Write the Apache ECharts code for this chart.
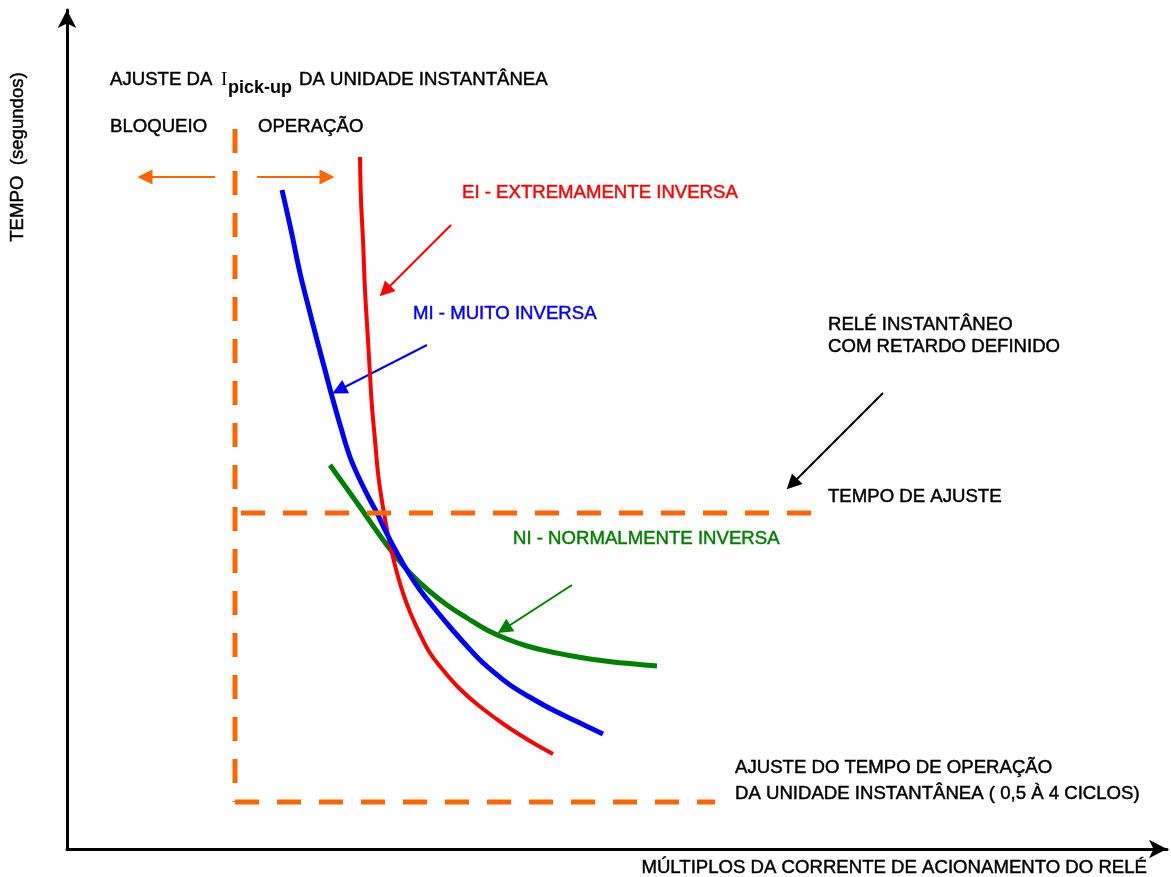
<!DOCTYPE html>
<html>
<head>
<meta charset="utf-8">
<script src="https://cdn.jsdelivr.net/npm/echarts@6/dist/echarts.min.js"></script>
<style>html,body{margin:0;padding:0;background:#fff}#c{width:1171px;height:877px}</style>
</head>
<body>
<div id="c"></div>
<script>
// Schematic relay time-current curves (arbitrary units, no scale in the original)
var eiCurve = [[293,692],[294,649],[296,609],[298,559],[301,509],[303,474],[305,442],[308,409],[311,376],[314,354],[317,336],[321,314],[325,296],[330,276],[336,256],[343,237],[352,217],[363,196],[376,179],[390,163],[405,149],[420,137],[435,126],[450,116],[468,105],[486,95]];
var miCurve = [[215,659],[224,619],[233,576],[241,544],[250,509],[258,479],[266,449],[274,421],[283,392],[293,369],[303,349],[310,336],[318,319],[330,296],[341,277],[353,259],[368,240],[383,222],[398,205],[413,189],[429,175],[446,162],[466,150],[486,139],[511,127],[536,115]];
var niCurve = [[263,384],[278,363],[293,342],[309,319],[326,296],[343,276],[361,259],[380,244],[400,231],[420,219],[440,210],[460,203],[480,198],[500,194],[523,190],[546,187],[568,185],[590,183]];
// Reference settings
var pickupX = [168];          // instantaneous pick-up setting (x)
var pickupYRange = [720, 47];
var settingTime = [336];      // definite-time setting (y)
var settingXRange = [174, 748];
var instTime = [47];          // instantaneous unit operating time (y)
var instXRange = [168, 648];
// Annotation arrows [from, to]
var arrowsOrange = [[[148,672],[78,672]],[[190,672],[260,672]]];
var arrowRed = [[384,624],[318,558]];
var arrowBlue = [[360,504],[272,459]];
var arrowGreen = [[505,264],[437,220]];
var arrowBlack = [[816,456],[725,365]];

var FONT = 'Arial, "Liberation Sans", sans-serif';
var FS = '18.6px ';
var chart = echarts.init(document.getElementById('c'));

function arrowSeries(list, color, z) {
  return {
    type: 'lines', coordinateSystem: 'cartesian2d', z: z || 3,
    symbol: ['none', 'triangle'], symbolSize: 15,
    lineStyle: { color: color, width: 2, opacity: 1 },
    itemStyle: { color: color },
    data: list.map(function (a) { return { coords: a }; }),
    silent: true
  };
}
function txt(x, y, s, color) {
  var c = color || '#000';
  return { type: 'text', x: x, y: y, style: { text: s, fill: c, font: FS + FONT, align: 'left', verticalAlign: 'middle', stroke: c, lineWidth: 0.45 } };
}

var orangeStyle = { color: '#ff6600', width: 5, type: [24, 18] };

chart.setOption({
  animation: false,
  backgroundColor: '#fff',
  grid: { left: 67, right: 4, top: 10, bottom: 28 },
  xAxis: {
    type: 'value', min: 0, max: 1100,
    axisLine: { show: true, symbol: ['none', 'arrow'], symbolSize: [14, 18], lineStyle: { color: '#000', width: 3 } },
    axisTick: { show: false }, axisLabel: { show: false }, splitLine: { show: false }
  },
  yAxis: {
    type: 'value', min: 0, max: 839,
    axisLine: { show: true, symbol: ['none', 'arrow'], symbolSize: [14, 18], lineStyle: { color: '#000', width: 3 } },
    axisTick: { show: false }, axisLabel: { show: false }, splitLine: { show: false }
  },
  series: [
    { name: 'NI', type: 'line', data: niCurve, showSymbol: false, smooth: 0.4, lineStyle: { color: '#008000', width: 5 }, z: 2 },
    { name: 'EI', type: 'line', data: eiCurve, showSymbol: false, smooth: 0.4, lineStyle: { color: '#ff0000', width: 4 }, z: 3 },
    { name: 'MI', type: 'line', data: miCurve, showSymbol: false, smooth: 0.4, lineStyle: { color: '#0000ff', width: 5 }, z: 4 },
    { name: 'pickup', type: 'line', showSymbol: false, z: 5, lineStyle: orangeStyle,
      data: [[pickupX[0], pickupYRange[0]], [pickupX[0], pickupYRange[1]]] },
    { name: 'setting', type: 'line', showSymbol: false, z: 5, lineStyle: orangeStyle,
      data: [[settingXRange[0], settingTime[0]], [settingXRange[1], settingTime[0]]] },
    { name: 'inst', type: 'line', showSymbol: false, z: 5, lineStyle: orangeStyle,
      data: [[instXRange[0], instTime[0]], [instXRange[1], instTime[0]]] },
    arrowSeries(arrowsOrange, '#ff6600'),
    arrowSeries([arrowRed], '#ff0000'),
    arrowSeries([arrowBlue], '#0000ff'),
    arrowSeries([arrowGreen], '#008000'),
    arrowSeries([arrowBlack], '#000000')
  ],
  graphic: [
    txt(110, 80, 'AJUSTE DA'),
    { type: 'text', x: 221, y: 80, style: { text: 'I', fill: '#000', font: '19px "Liberation Serif", "Times New Roman", serif', verticalAlign: 'middle' } },
    { type: 'text', x: 228, y: 88, style: { text: 'pick-up', fill: '#000', font: 'bold 18px ' + FONT, verticalAlign: 'middle' } },
    txt(299, 80, 'DA UNIDADE INSTANTÂNEA'),
    txt(110, 127, 'BLOQUEIO'),
    txt(258, 127, 'OPERAÇÃO'),
    txt(462, 193, 'EI - EXTREMAMENTE INVERSA', '#ff0000'),
    txt(413, 314, 'MI - MUITO INVERSA', '#0000ff'),
    txt(828, 325, 'RELÉ INSTANTÂNEO'),
    txt(828, 347, 'COM RETARDO DEFINIDO'),
    txt(828, 497, 'TEMPO DE AJUSTE'),
    txt(513, 539, 'NI - NORMALMENTE INVERSA', '#008000'),
    txt(735, 768, 'AJUSTE DO TEMPO DE OPERAÇÃO'),
    txt(735, 794, 'DA UNIDADE INSTANTÂNEA ( 0,5 À 4 CICLOS)'),
    { type: 'text', x: 1147, y: 868, style: { text: 'MÚLTIPLOS DA CORRENTE DE ACIONAMENTO DO RELÉ', fill: '#000', font: FS + FONT, align: 'right', verticalAlign: 'middle', stroke: '#000', lineWidth: 0.45 } },
    { type: 'text', x: 18, y: 157, rotation: Math.PI / 2, style: { text: 'TEMPO  (segundos)', fill: '#000', font: FS + FONT, align: 'center', verticalAlign: 'middle', stroke: '#000', lineWidth: 0.45 } }
  ]
});
</script>
</body>
</html>
